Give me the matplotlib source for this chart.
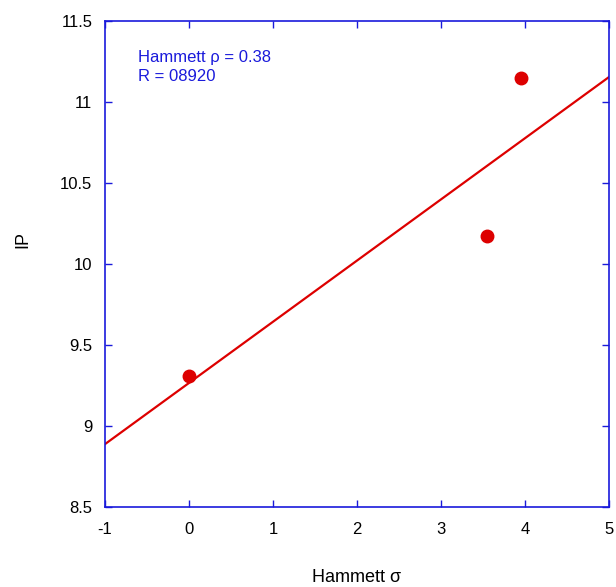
import numpy as np
import matplotlib
matplotlib.use('Agg')
import matplotlib.pyplot as plt

# Data
sigma = [0.0, 3.55, 3.95]
ip = [9.31, 10.17, 11.15]
x_ticks = [-1, 0, 1, 2, 3, 4, 5]
y_ticks = [8.5, 9, 9.5, 10, 10.5, 11, 11.5]
y_tick_labels = ['8.5', '9', '9.5', '10', '10.5', '11', '11.5']

plt.rcParams['font.family'] = ['Liberation Sans', 'DejaVu Sans']

W, H = 616, 587
fig = plt.figure(figsize=(W / 100, H / 100), dpi=100)
ax = fig.add_axes([105 / W, 80 / H, 504 / W, 486 / H])

# linear fit through the points
slope, intercept = np.polyfit(sigma, ip, 1)
xs = np.array([x_ticks[0], x_ticks[-1]])
ax.plot(xs, slope * xs + intercept, color='#dd0000', lw=1.6, zorder=2)
ax.plot(sigma, ip, 'o', color='#dd0000', markersize=9, zorder=3)

ax.set_xlim(-1, 5)
ax.set_ylim(8.5, 11.5)
ax.set_xticks(x_ticks)
ax.set_xticklabels([str(v) for v in x_ticks])
ax.set_yticks(y_ticks)
ax.set_yticklabels(y_tick_labels)

blue = '#1a1adb'
for s in ax.spines.values():
    s.set_color(blue)
    s.set_linewidth(1.2)
ax.tick_params(direction='in', length=5, width=1.0, color=blue,
               top=True, right=True, labelsize=12, labelcolor='black')
ax.tick_params(axis='x', pad=11)
ax.tick_params(axis='y', pad=9)

# axis labels placed in figure pixels
fig.text(357 / W, 1 - 577 / H, 'Hammett σ', fontsize=13, ha='center', va='center')
fig.text(23 / W, 1 - 240 / H, 'IP', fontsize=13, rotation=90, ha='center', va='center')

fig.text(138 / W, 1 - 50 / H, 'Hammett ρ = 0.38\nR = 08920', color=blue,
         fontsize=12, va='top', ha='left', linespacing=1.3)

fig.savefig('out.png', dpi=100)
